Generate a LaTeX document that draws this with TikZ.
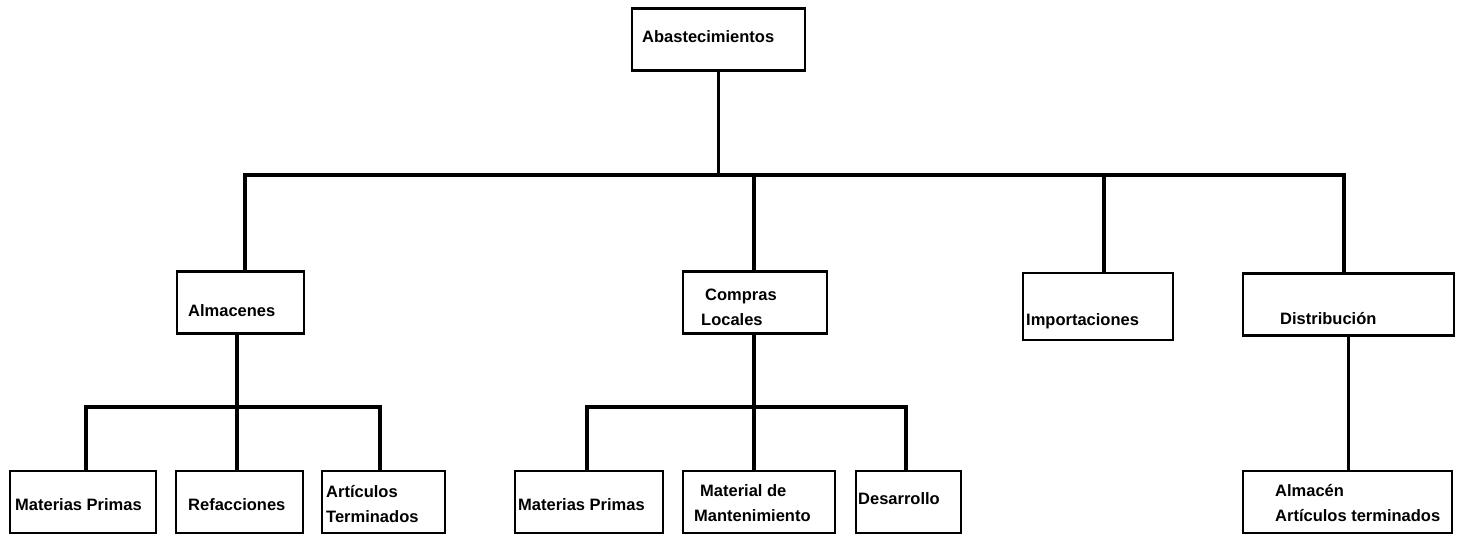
\documentclass[tikz,border=0pt]{standalone}
\usepackage{fontspec}
\setmainfont{Liberation Sans}
\begin{document}
\begin{tikzpicture}[x=1pt,y=-1pt,
  box/.style={draw, line width=2.9pt, inner sep=0pt, minimum height=62pt, minimum width=#1},
  lbl/.style={anchor=west, inner sep=0pt, align=left,
              font=\bfseries\fontsize{16.5}{25}\selectfont},
  link/.style={line width=3.3pt}]
\useasboundingbox (0,0) rectangle (1459,540);

% boxes
\node[box=173pt] (abas)   at (718.5,39.5) {};
\node[box=127pt] (alm)    at (240.5,302.5) {};
\node[box=144pt] (comp)   at (755,302.5) {};
\node[box=150pt, minimum height=67pt] (imp) at (1098,306.5) {};
\node[box=211pt] (dist)   at (1348.5,304.5) {};
\node[box=146pt] (mp1)    at (83,502) {};
\node[box=127pt] (ref)    at (239.5,502) {};
\node[box=123pt] (art)    at (383.5,502) {};
\node[box=148pt] (mp2)    at (589,502) {};
\node[box=152pt] (mat)    at (759,502) {};
\node[box=105pt] (des)    at (908.5,502) {};
\node[box=209pt] (almart) at (1347.5,502) {};

% labels
\node[lbl] (tabas)   at (642,37)   {Abastecimientos};
\node[lbl] (talm)    at (188,311)  {Almacenes};
\node[lbl] (tcomp)   at (701,307)  {\hspace{4pt}Compras\\Locales};
\node[lbl] (timp)    at (1026,321) {Importaciones};
\node[lbl] (tdist)   at (1280,319) {Distribución};
\node[lbl] (tmp1)    at (15,505)   {Materias Primas};
\node[lbl] (tref)    at (188,505)  {Refacciones};
\node[lbl] (tart)    at (326,504)  {Artículos\\Terminados};
\node[lbl] (tmp2)    at (518,505)  {Materias Primas};
\node[lbl] (tmat)    at (694,503)  {\hspace{6pt}Material de\\Mantenimiento};
\node[lbl] (tdes)    at (858,499)  {Desarrollo};
\node[lbl] (talmart) at (1275,503) {Almacén\\Artículos terminados};

% junction points of the buses
\coordinate (busL)  at (245,175);
\coordinate (busR)  at (1344,175);
\coordinate (dropC) at (754,175);
\coordinate (dropI) at (1104,175);
\coordinate (subAL) at (86,407);
\coordinate (subAM) at (237,407);
\coordinate (subAR) at (380,407);
\coordinate (subCL) at (587,407);
\coordinate (subCM) at (754,407);
\coordinate (subCR) at (906,407);

% first level
\draw[link] (abas.south) -- (abas.south |- busL);
\draw[link] (alm.north -| busL) |- (busR) -- (dist.north -| busR);
\draw[link] (dropC) -- (comp.north -| dropC);
\draw[link] (dropI) -- (imp.north -| dropI);

% Almacenes branch
\draw[link] (alm.south -| subAM) -- (subAM);
\draw[link] (mp1.north -| subAL) |- (subAR) -- (art.north -| subAR);
\draw[link] (subAM) -- (ref.north -| subAM);

% Compras Locales branch
\draw[link] (comp.south -| subCM) -- (subCM);
\draw[link] (mp2.north -| subCL) |- (subCR) -- (des.north -| subCR);
\draw[link] (subCM) -- (mat.north -| subCM);

% Distribucion branch
\draw[link] (dist.south) -- (dist.south |- almart.north);
\end{tikzpicture}
\end{document}
